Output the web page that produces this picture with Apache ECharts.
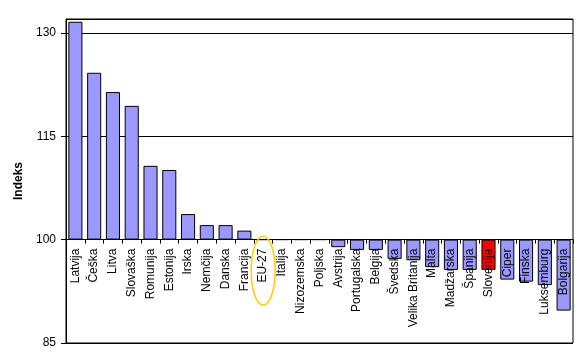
<!DOCTYPE html>
<html><head><meta charset="utf-8">
<script src="https://cdn.jsdelivr.net/npm/echarts@6/dist/echarts.min.js"></script>
<style>html,body{margin:0;padding:0;background:#fff}#c{width:578px;height:359px}</style>
</head><body><div id="c"></div>
<script>
const categories = ['Latvija','Češka','Litva','Slovaška','Romunija','Estonija','Irska','Nemčija','Danska','Francija','EU-27','Italija','Nizozemska','Poljska','Avstrija','Portugalska','Belgija','Švedska','Velika Britanija','Malta','Madžarska','Španija','Slovenija','Ciper','Finska','Luksemburg','Bolgarija'];
const indexValues = [131.6,124.2,121.4,119.4,110.7,110.1,103.7,102.1,102.1,101.3,100.0,100.0,100.0,100.0,98.9,98.5,98.5,97.2,97.0,96.0,95.6,95.6,95.6,94.2,93.9,93.4,89.7];
const baseIndex = 100;
const highlight = 'Slovenija';
const yTicks = [85,100,115,130];

(function(){
const chart = echarts.init(document.getElementById('c'), null, {renderer:'canvas'});
const fnt = 'Arial, "Liberation Sans", sans-serif';
chart.setOption({
  animation:false,
  backgroundColor:'#fff',
  grid:{left:66, top:19, right:5, bottom:16, show:true, borderColor:'#000', borderWidth:1, containLabel:false, outerBoundsMode:'none'},
  xAxis:{
    type:'category', data:categories, z:5, offset:0,
    axisLine:{show:true, onZero:false, lineStyle:{color:'#000', width:1}},
    axisTick:{show:true, length:4, lineStyle:{color:'#000'}},
    axisLabel:{rotate:90, color:'#000', fontSize:12, fontFamily:fnt, margin:9, interval:0, hideOverlap:false}
  },
  yAxis:{
    type:'value', min:yTicks[0]-baseIndex, max:32, interval:15,
    name:'Indeks', nameLocation:'middle', nameGap:37,
    nameTextStyle:{fontWeight:'bold', fontSize:12, fontFamily:fnt, color:'#000'},
    axisLine:{show:true, onZero:false, lineStyle:{color:'#000'}},
    axisTick:{show:true, length:5, lineStyle:{color:'#000'}},
    axisLabel:{color:'#000', fontSize:12, fontFamily:fnt, margin:10, showMaxLabel:false, formatter:v=>String(v+baseIndex)},
    splitLine:{show:true, lineStyle:{color:'#000', width:1}}
  },
  series:[{
    type:'bar', barCategoryGap:'25%', z:2,
    data:indexValues.map((v,i)=>({value:+(v-baseIndex).toFixed(2), itemStyle:{color: categories[i]===highlight?'#FF0000':'#9999FF'}})),
    itemStyle:{borderColor:'#000', borderWidth:1}
  }]
});
const y0 = chart.convertToPixel({yAxisIndex:0}, 0);
const yMin = chart.convertToPixel({yAxisIndex:0}, yTicks[0]-baseIndex);
const c1 = chart.convertToPixel({xAxisIndex:0, yAxisIndex:0}, ['EU-27', -4.5]);
const pTop = chart.convertToPixel({xAxisIndex:0, yAxisIndex:0}, ['EU-27', 0.5]);
const pBot = chart.convertToPixel({xAxisIndex:0, yAxisIndex:0}, ['EU-27', -9.5]);
chart.setOption({
  xAxis:{offset: -(yMin - y0)},
  graphic:[{type:'ellipse', z:10, shape:{cx:c1[0], cy:c1[1], rx:12, ry:(pBot[1]-pTop[1])/2}, style:{fill:'none', stroke:'#FFCC00', lineWidth:1.5}}]
});
})();
</script></body></html>
